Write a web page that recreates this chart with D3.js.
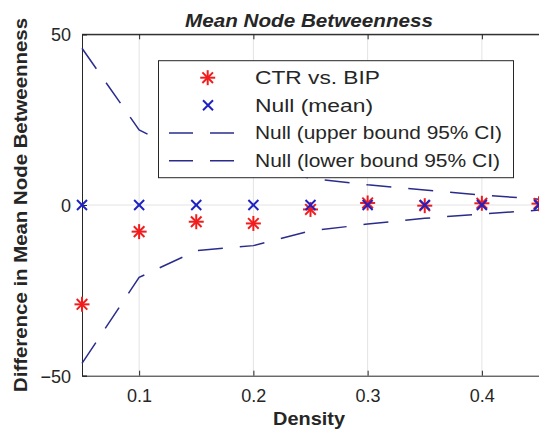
<!DOCTYPE html>
<html>
<head>
<meta charset="utf-8">
<script src="https://cdn.jsdelivr.net/npm/d3@7"></script>
<style>
  html, body { margin: 0; padding: 0; background: #fff; }
  svg { display: block; }
  text { font-family: "Liberation Sans", Arial, Helvetica, sans-serif; fill: #262626; }
</style>
</head>
<body>
<svg id="chart" width="539" height="443"></svg>
<script>
// Network density levels
const density = [0.05, 0.10, 0.15, 0.20, 0.25, 0.30, 0.35, 0.40, 0.45];
// Observed difference CTR vs. BIP
const observed = [-29.1, -7.8, -4.9, -5.4, -1.3, 0.6, -0.2, 0.5, 0.4];
// Null model mean
const nullMean = [0, 0, 0, 0, 0, 0, 0, 0, 0];
// Null model 95% confidence bounds
const nullUpper = [45.9, 22.0, 13.6, 11.8, 7.8, 5.9, 4.4, 2.9, 1.7];
const nullLower = [-46.4, -21.2, -13.4, -11.9, -7.6, -5.6, -3.9, -2.6, -1.5];

const xTicks = [0.1, 0.2, 0.3, 0.4];
const yTicks = [-50, 0, 50];
const legendLabels = ["CTR vs. BIP", "Null (mean)", "Null (upper bound 95% CI)", "Null (lower bound 95% CI)"];

const svg = d3.select("#chart");
const plotLeft = 82, plotRight = 539, plotTop = 34.3, plotBottom = 375.7;

const x = d3.scaleLinear().domain([0.05, 0.45]).range([plotLeft, plotRight]);
const y = d3.scaleLinear().domain([-50, 50]).range([plotBottom, plotTop]);

const axisColor = "#262626";
const red = "#f21c1c";
const blue = "#1e22c4";
const navy = "#2a2c8c";

// grid
const grid = svg.append("g");
grid.selectAll("line.vx").data(xTicks).join("line")
  .attr("x1", d => x(d)).attr("x2", d => x(d)).attr("y1", plotTop).attr("y2", plotBottom)
  .attr("stroke", "#e3e3e3").attr("stroke-width", 1);
grid.selectAll("line.hy").data(yTicks.filter(d => d !== -50 && d !== 50)).join("line")
  .attr("x1", plotLeft).attr("x2", plotRight).attr("y1", d => y(d)).attr("y2", d => y(d))
  .attr("stroke", "#e3e3e3").attr("stroke-width", 1);

// axes
const xAxis = svg.append("g").attr("transform", `translate(0,${plotBottom})`)
  .call(d3.axisBottom(x).tickValues(xTicks).tickSize(-5).tickPadding(14).tickFormat(d3.format(".1f")));
const xAxisTop = svg.append("g").attr("transform", `translate(0,${plotTop})`)
  .call(d3.axisTop(x).tickValues(xTicks).tickSize(-5).tickFormat(""));
const yAxis = svg.append("g").attr("transform", `translate(${plotLeft},0)`)
  .call(d3.axisLeft(y).tickValues(yTicks).tickSize(-5).tickPadding(11).tickFormat(d3.format("d")));
[xAxis, xAxisTop, yAxis].forEach(g => {
  g.select(".domain").attr("stroke", axisColor).attr("stroke-width", 1);
  g.selectAll(".tick line").attr("stroke", axisColor);
  g.selectAll(".tick text").attr("font-size", 18).attr("fill", axisColor);
});
yAxis.selectAll(".tick text").attr("dy", "0.36em");

// dashed confidence bounds
const line = d3.line().x((d, i) => x(density[i])).y(d => y(d));
[nullUpper, nullLower].forEach(series => {
  svg.append("path").datum(series)
    .attr("d", line)
    .attr("fill", "none").attr("stroke", navy).attr("stroke-width", 1.5)
    .attr("stroke-dasharray", "25,17");
});

// marker shapes
function star(g, cx, cy, r, color) {
  for (let k = 0; k < 4; k++) {
    const a = k * Math.PI / 4;
    g.append("line")
      .attr("x1", cx - r * Math.cos(a)).attr("y1", cy - r * Math.sin(a))
      .attr("x2", cx + r * Math.cos(a)).attr("y2", cy + r * Math.sin(a))
      .attr("stroke", color).attr("stroke-width", 2);
  }
}
function cross(g, cx, cy, r, color) {
  g.append("line").attr("x1", cx - r).attr("y1", cy - r).attr("x2", cx + r).attr("y2", cy + r)
    .attr("stroke", color).attr("stroke-width", 2);
  g.append("line").attr("x1", cx - r).attr("y1", cy + r).attr("x2", cx + r).attr("y2", cy - r)
    .attr("stroke", color).attr("stroke-width", 2);
}

const obsG = svg.append("g");
observed.forEach((v, i) => star(obsG, x(density[i]), y(v), 7.5, red));
const nullG = svg.append("g");
nullMean.forEach((v, i) => cross(nullG, x(density[i]), y(v), 5, blue));

// box border on top of marks
svg.append("line").attr("x1", plotLeft).attr("x2", plotRight).attr("y1", plotTop).attr("y2", plotTop)
  .attr("stroke", axisColor).attr("stroke-width", 1);

// legend
const lg = svg.append("g");
const lx = 158.5, ly = 60.7, lw = 355, lh = 117;
lg.append("rect").attr("x", lx).attr("y", ly).attr("width", lw).attr("height", lh)
  .attr("fill", "#fff").attr("stroke", axisColor).attr("stroke-width", 1);
const rowY = [77.7, 105.3, 133, 160.7];
star(lg, 207.7, rowY[0], 7.5, red);
cross(lg, 208, rowY[1], 5, blue);
[2, 3].forEach(r => {
  lg.append("line").attr("x1", 169).attr("x2", 235).attr("y1", rowY[r]).attr("y2", rowY[r])
    .attr("stroke", navy).attr("stroke-width", 1.5).attr("stroke-dasharray", "24,17");
});
const legendWidths = [125, 118, 247, 245];
legendLabels.forEach((t, i) => {
  lg.append("text").attr("x", 255).attr("y", rowY[i]).attr("dy", "0.36em")
    .attr("font-size", 17.5).attr("textLength", legendWidths[i]).attr("lengthAdjust", "spacingAndGlyphs")
    .text(t);
});

// title
svg.append("text").attr("x", 309).attr("y", 26.7).attr("text-anchor", "middle")
  .attr("font-size", 18.5).attr("font-weight", "bold").attr("font-style", "italic")
  .attr("textLength", 248).attr("lengthAdjust", "spacingAndGlyphs")
  .attr("fill", "#000")
  .text("Mean Node Betweenness");

// axis labels
svg.append("text").attr("x", 309).attr("y", 425).attr("text-anchor", "middle")
  .attr("font-size", 19).attr("font-weight", "bold").attr("fill", "#000")
  .attr("textLength", 72).attr("lengthAdjust", "spacingAndGlyphs")
  .text("Density");
svg.append("text").attr("transform", "translate(27,205) rotate(-90)").attr("text-anchor", "middle")
  .attr("font-size", 19).attr("font-weight", "bold").attr("fill", "#000")
  .attr("textLength", 374).attr("lengthAdjust", "spacingAndGlyphs")
  .text("Difference in Mean Node Betweenness");
</script>
</body>
</html>
